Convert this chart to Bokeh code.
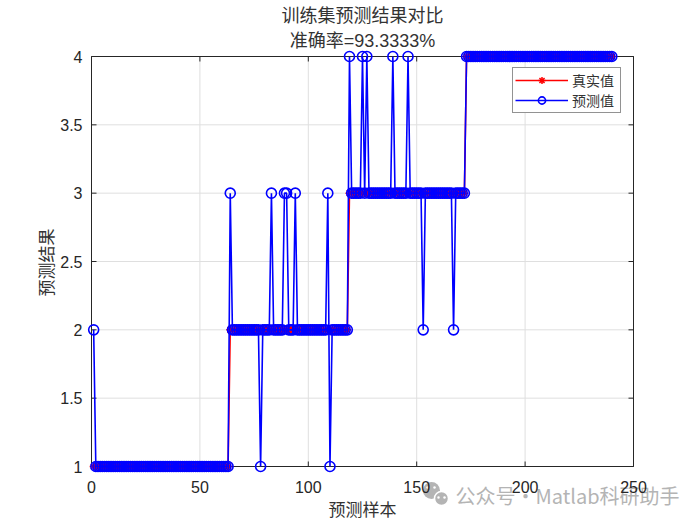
import numpy as np
from bokeh.plotting import figure
from bokeh.models import Range1d, Legend, LegendItem
from bokeh.core.properties import value
from bokeh.embed import file_html
from bokeh.resources import INLINE

# ---------------- data ----------------
class_labels = [1, 2, 3, 4]
class_counts = [63, 55, 54, 68]          # consecutive runs of the true class, samples 1..240
err_samples = [1, 64, 78, 83, 89, 90, 94, 109, 110, 119, 125, 127, 139, 146, 153, 167]
err_pred = [2, 3, 1, 3, 3, 3, 3, 3, 1, 4, 4, 4, 4, 4, 2, 2]
x_ticks = [0, 50, 100, 150, 200, 250]
x_tick_labels = ["0", "50", "100", "150", "200", "250"]
y_ticks = [1, 1.5, 2, 2.5, 3, 3.5, 4]
y_tick_labels = ["1", "1.5", "2", "2.5", "3", "3.5", "4"]
xlim = (0, 250)
ylim = (1, 4)
title_text = "训练集预测结果对比"
acc_text = "准确率=93.3333%"
xlabel_text = "预测样本"
ylabel_text = "预测结果"
legend_labels = ["真实值", "预测值"]
watermark_text = "公众号·Matlab科研助手"

true_y = np.repeat(class_labels, class_counts)
n = len(true_y)
xs = np.arange(1, n + 1)
pred_y = true_y.copy()
for s, v in zip(err_samples, err_pred):
    pred_y[s - 1] = v

# ---------------- layout (pixel geometry of the axes box) ----------------
W, H = 700, 525
BL, BR, BT, BB = 91, 633, 56, 466          # box left/right/top/bottom in canvas px
kx = (BR - BL) / (xlim[1] - xlim[0])       # px per data unit
ky = (BB - BT) / (ylim[1] - ylim[0])


def X(px):
    return xlim[0] + (px - BL) / kx


def Y(py):
    return ylim[0] + (BB - py) / ky


TXT = "#262626"
LBL = "#333333"
FONT = "Liberation Sans, Noto Sans CJK SC"
CJK = "Noto Sans CJK SC"
WM = "#b4b4b4"

p = figure(width=W, height=H,
           x_range=Range1d(X(0), X(W)), y_range=Range1d(Y(H), Y(0)),
           x_axis_location=None, y_axis_location=None,
           output_backend="svg", toolbar_location=None,
           min_border_left=0, min_border_right=0, min_border_top=0, min_border_bottom=0)
p.outline_line_color = None
p.grid.visible = False
p.background_fill_color = "white"
p.border_fill_color = "white"

# watermark (WeChat-style icon + text), drawn first so tick labels stay on top
p.scatter(x=[X(431)], y=[Y(490)], marker="circle", size=17, fill_color=WM, line_color=None)
p.scatter(x=[X(441)], y=[Y(498)], marker="circle", size=14, fill_color=WM,
          line_color="white", line_width=1.5)
p.scatter(x=[X(427), X(434), X(438), X(444)], y=[Y(487), Y(487), Y(497), Y(497)],
          marker="circle", size=2.5, fill_color="white", line_color=None)
p.text(x=[X(455)], y=[Y(495)], text=[watermark_text], text_align="left", text_baseline="middle",
       text_font=value(CJK), text_font_size="20px", text_color=WM)

# grid
GRID = "#dfdfdf"
p.segment(x0=x_ticks, y0=[ylim[0]] * len(x_ticks), x1=x_ticks, y1=[ylim[1]] * len(x_ticks),
          line_color=GRID, line_width=1)
p.segment(x0=[xlim[0]] * len(y_ticks), y0=y_ticks, x1=[xlim[1]] * len(y_ticks), y1=y_ticks,
          line_color=GRID, line_width=1)

# inward ticks on all four sides
TL = 5
p.segment(x0=x_ticks, y0=[ylim[0]] * len(x_ticks), x1=x_ticks, y1=[ylim[0] + TL / ky] * len(x_ticks),
          line_color=TXT, line_width=1)
p.segment(x0=x_ticks, y0=[ylim[1]] * len(x_ticks), x1=x_ticks, y1=[ylim[1] - TL / ky] * len(x_ticks),
          line_color=TXT, line_width=1)
p.segment(x0=[xlim[0]] * len(y_ticks), y0=y_ticks, x1=[xlim[0] + TL / kx] * len(y_ticks), y1=y_ticks,
          line_color=TXT, line_width=1)
p.segment(x0=[xlim[1]] * len(y_ticks), y0=y_ticks, x1=[xlim[1] - TL / kx] * len(y_ticks), y1=y_ticks,
          line_color=TXT, line_width=1)

# box
p.quad(left=[xlim[0]], right=[xlim[1]], bottom=[ylim[0]], top=[ylim[1]],
       fill_color=None, line_color=TXT, line_width=1)

# series
r_tl = p.line(xs, true_y, line_color="red", line_width=1.6)
r_ts = p.scatter(xs, true_y, marker="asterisk", size=8, line_color="red", line_width=1.5)
r_pl = p.line(xs, pred_y, line_color="blue", line_width=1.6)
r_ps = p.scatter(xs, pred_y, marker="circle", size=10, line_color="blue",
                 fill_color=None, line_width=1.6)

# tick labels
p.text(x=x_ticks, y=[Y(486)] * len(x_ticks), text=x_tick_labels,
       text_align="center", text_baseline="middle", text_font=value(FONT),
       text_font_size="16px", text_color=TXT)
p.text(x=[X(82)] * len(y_ticks), y=y_ticks, text=y_tick_labels,
       text_align="right", text_baseline="middle", text_font=value(FONT),
       text_font_size="16px", text_color=TXT)

# titles, axis labels
cx = X((BL + BR) / 2)
p.text(x=[cx], y=[Y(15)], text=[title_text], text_align="center", text_baseline="middle",
       text_font=value(FONT), text_font_size="18px", text_color=LBL)
p.text(x=[cx], y=[Y(40)], text=[acc_text], text_align="center", text_baseline="middle",
       text_font=value(FONT), text_font_size="18px", text_color=LBL)
p.text(x=[cx], y=[Y(508)], text=[xlabel_text], text_align="center", text_baseline="middle",
       text_font=value(CJK), text_font_size="17px", text_color=LBL)
p.text(x=[X(45)], y=[Y(262)], text=[ylabel_text], angle=np.pi / 2,
       text_align="center", text_baseline="middle",
       text_font=value(CJK), text_font_size="17px", text_color=LBL)

# legend
legend = Legend(items=[LegendItem(label=legend_labels[0], renderers=[r_tl, r_ts]),
                       LegendItem(label=legend_labels[1], renderers=[r_pl, r_ps])],
                location=(512, H - 113), padding=2, spacing=0, margin=0,
                glyph_width=53, glyph_height=18, label_height=18, label_standoff=4,
                label_width=46,
                label_text_font=CJK, label_text_font_size="14px", label_text_color=LBL,
                border_line_color=TXT, border_line_width=1, background_fill_color="white",
                background_fill_alpha=1)
p.add_layout(legend, "center")

open("out.html", "w").write(file_html(p, INLINE))
